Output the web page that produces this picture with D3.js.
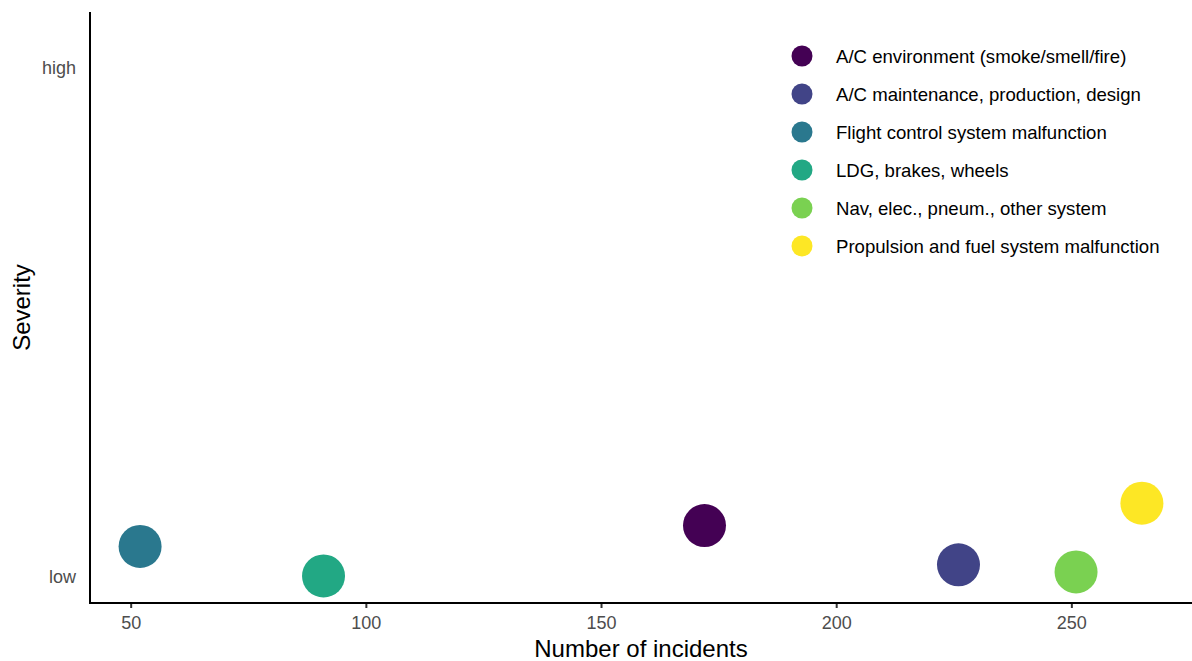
<!DOCTYPE html>
<html>
<head>
<meta charset="utf-8">
<script src="https://cdn.jsdelivr.net/npm/d3@7"></script>
<style>
  html, body { margin: 0; padding: 0; background: #fff; }
  svg { display: block; font-family: "Liberation Sans", Arial, sans-serif; }
</style>
</head>
<body>
<svg id="chart" width="1192" height="661"></svg>
<script>
// Data
const categories = [
  "A/C environment (smoke/smell/fire)",
  "A/C maintenance, production, design",
  "Flight control system malfunction",
  "LDG, brakes, wheels",
  "Nav, elec., pneum., other system",
  "Propulsion and fuel system malfunction"
];
const incidents = [172, 226, 52, 91, 251, 265];
const severity = [0.101, 0.024, 0.060, 0.002, 0.010, 0.145];
const colors = ["#440154", "#414487", "#2A788E", "#22A884", "#7AD151", "#FDE725"];
const xTicks = [50, 100, 150, 200, 250];
const yTickValues = [0, 1];
const yTickLabels = ["low", "high"];

const svg = d3.select("#chart");
const mLeft = 90, mRight = 1192, mTop = 12, mBottom = 603;

const x = d3.scaleLinear().domain([41.35, 275.65]).range([mLeft, mRight]);
const y = d3.scaleLinear().domain([0, 1]).range([577, 68]);

// points
svg.append("g").selectAll("circle")
  .data(categories.map((c, i) => ({c, n: incidents[i], s: severity[i], col: colors[i]})))
  .join("circle")
  .attr("cx", d => x(d.n))
  .attr("cy", d => y(d.s))
  .attr("r", 21.5)
  .attr("fill", d => d.col);

// x axis
const xAxis = svg.append("g")
  .attr("transform", `translate(0,${mBottom})`)
  .call(d3.axisBottom(x).tickValues(xTicks).tickSize(5).tickPadding(8).tickFormat(d3.format("d")));
xAxis.select(".domain").remove();
xAxis.selectAll(".tick line").attr("stroke", "#333").attr("stroke-width", 2);
xAxis.selectAll(".tick text").attr("fill", "#4d4d4d").style("font-size", "18px");

// y axis
const yAxis = svg.append("g")
  .attr("transform", `translate(${mLeft},0)`)
  .call(d3.axisLeft(y).tickValues(yTickValues).tickSize(0).tickPadding(14)
    .tickFormat((d, i) => yTickLabels[i]));
yAxis.select(".domain").remove();
yAxis.selectAll(".tick text").attr("fill", "#4d4d4d").style("font-size", "18px");

// axis lines
svg.append("line").attr("x1", mLeft).attr("x2", mLeft).attr("y1", mTop).attr("y2", mBottom + 1)
  .attr("stroke", "#000").attr("stroke-width", 2);
svg.append("line").attr("x1", mLeft - 1).attr("x2", mRight).attr("y1", mBottom).attr("y2", mBottom)
  .attr("stroke", "#000").attr("stroke-width", 2);

// axis titles
svg.append("text").attr("x", (mLeft + mRight) / 2).attr("y", 657)
  .attr("text-anchor", "middle").style("font-size", "24px").attr("fill", "#000")
  .text("Number of incidents");
svg.append("text").attr("transform", `translate(30,${(mTop + mBottom) / 2}) rotate(-90)`)
  .attr("text-anchor", "middle").style("font-size", "24px").attr("fill", "#000")
  .text("Severity");

// legend
const lg = svg.append("g").attr("transform", "translate(802,56)");
const items = lg.selectAll("g").data(categories).join("g")
  .attr("transform", (d, i) => `translate(0,${i * 38})`);
items.append("circle").attr("r", 10.5).attr("fill", (d, i) => colors[i]);
items.append("text").attr("x", 34).attr("dy", "0.35em")
  .style("font-size", "18.6px").attr("fill", "#000").text(d => d);
</script>
</body>
</html>
